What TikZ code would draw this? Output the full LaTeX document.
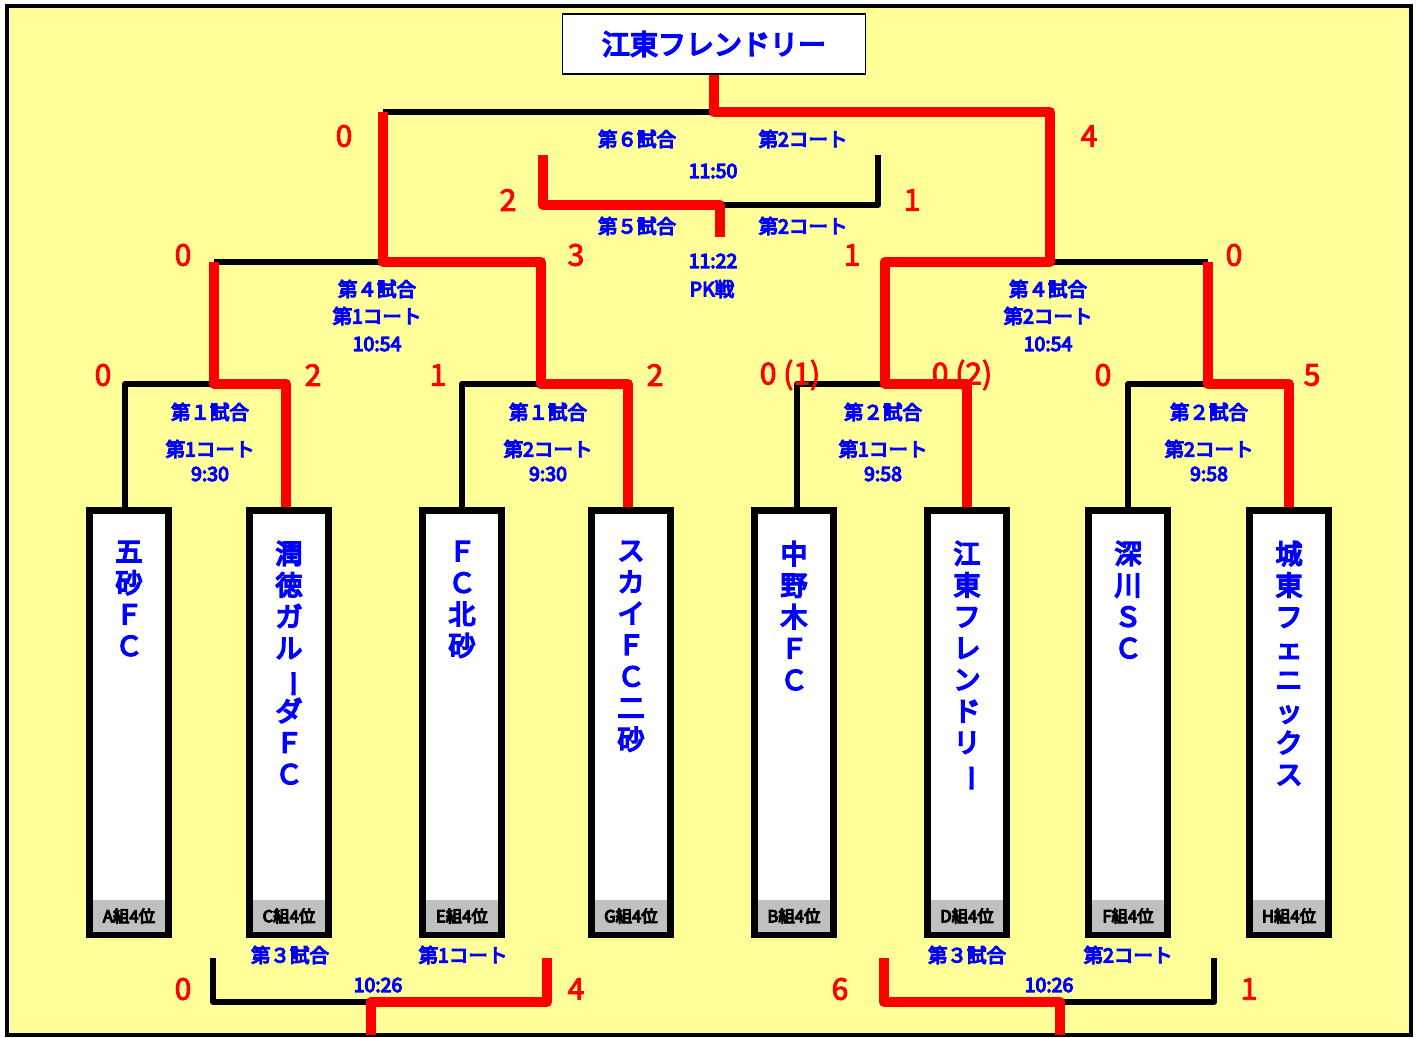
\documentclass[tikz,border=0pt]{standalone}
\usepackage{fontspec}
\setmainfont{Noto Sans CJK JP}
\newfontfamily\jpbold{Noto Sans CJK JP}[FakeBold=6]
\newfontfamily\jpmid{Noto Sans CJK JP}[FakeBold=3]
\definecolor{bgyellow}{HTML}{FFFF99}
\definecolor{grp}{HTML}{C0C0C0}
\tikzset{
  blk/.style={draw, line width=6, line join=round},
  win/.style={draw, red, line width=10, line join=round},
  team/.style={draw, fill=white, line width=7, minimum width=79, minimum height=424, inner sep=0},
  rank/.style={fill=grp, minimum width=72, minimum height=32, inner sep=0, font=\jpbold\fontsize{16.5}{16.5}\selectfont},
  tname/.style={anchor=north, text=blue, align=center, inner sep=0, font=\jpbold\fontsize{27}{31.5}\selectfont},
  lbl/.style={text=blue, font=\jpbold\fontsize{19.5}{19.5}\selectfont},
  score/.style={text=red, font=\jpmid\fontsize{30}{30}\selectfont}
}
\newcommand{\vbar}{\rotatebox[origin=c]{-90}{ー}}
\begin{document}
\begin{tikzpicture}[x=1pt, y=-1pt]
\useasboundingbox (0,0) rectangle (1418,1038);
\fill[white] (0,0) rectangle (1418,1038);
\draw[fill=bgyellow, line width=4] (7,6) rectangle (1411,1035);

% title
\node[draw, fill=white, line width=1.2, minimum width=303, minimum height=60,
  text=blue, font=\jpbold\fontsize{28}{28}\selectfont] (title) at (714,44) {江東フレンドリー};

% teams
\node[team] (t1) at (129,722) {};
\node[team] (t2) at (289,722) {};
\node[team] (t3) at (462,722) {};
\node[team] (t4) at (631,722) {};
\node[team] (t5) at (794,722) {};
\node[team] (t6) at (967,722) {};
\node[team] (t7) at (1128,722) {};
\node[team] (t8) at (1289,722) {};
\node[rank] (g1) at (129,916) {A組4位};
\node[rank] (g2) at (289,916) {C組4位};
\node[rank] (g3) at (462,916) {E組4位};
\node[rank] (g4) at (631,916) {G組4位};
\node[rank] (g5) at (794,916) {B組4位};
\node[rank] (g6) at (967,916) {D組4位};
\node[rank] (g7) at (1128,916) {F組4位};
\node[rank] (g8) at (1289,916) {H組4位};
\node[tname] (n1) at (129,541) {五\\砂\\Ｆ\\Ｃ};
\node[tname] (n2) at (289,541) {潤\\徳\\ガ\\ル\\\vbar\\ダ\\Ｆ\\Ｃ};
\node[tname] (n3) at (462,541) {Ｆ\\Ｃ\\北\\砂};
\node[tname] (n4) at (631,541) {ス\\カ\\イ\\Ｆ\\Ｃ\\二\\砂};
\node[tname] (n5) at (794,541) {中\\野\\木\\Ｆ\\Ｃ};
\node[tname] (n6) at (967,541) {江\\東\\フ\\レ\\ン\\ド\\リ\\\vbar};
\node[tname] (n7) at (1128,541) {深\\川\\Ｓ\\Ｃ};
\node[tname] (n8) at (1289,541) {城\\東\\フ\\ェ\\ニ\\ッ\\ク\\ス};

% junctions
\coordinate (a1) at (214,384);
\coordinate (a2) at (541,384);
\coordinate (a3) at (885,384);
\coordinate (a4) at (1208,384);
\coordinate (b1) at (383,262);
\coordinate (b2) at (1050,262);
\coordinate (f) at (714,112);
\coordinate (c1) at (543,155);
\coordinate (c2) at (878,155);
\coordinate (cm) at (720,205);
\coordinate (cd) at (720,237);
\coordinate (d1) at (213,958);
\coordinate (d2) at (547,958);
\coordinate (dm) at (371,1002);
\coordinate (dd) at (371,1035);
\coordinate (e1) at (884,958);
\coordinate (e2) at (1214,958);
\coordinate (em) at (1060,1002);
\coordinate (ed) at (1060,1035);

% losing lines
\path[blk] ([xshift=-4]t1.north) |- (a1);
\path[blk] (t3.north) |- (a2);
\path[blk] ([xshift=3]t5.north) |- (a3);
\path[blk] (t7.north) |- (a4);
\path[blk] (a1 |- b1) -- (b1);
\path[blk] (b2) -- (a4 |- b2);
\path[blk] (b1 |- f) -- (f);
\path[blk] (cm) -| (c2);
\path[blk] (d1) |- (dm);
\path[blk] (e2) |- (em);

% winning lines
\path[win] ([xshift=-3]t2.north) |- (a1) -- (a1 |- b1);
\path[win] ([xshift=-3]t4.north) |- (a2) -- (a2 |- b1) -- (b1) -- (b1 |- f);
\path[win] (t6.north) |- (a3) -- (a3 |- b2) -- (b2) -- (b2 |- f) -- (f) -- (title.south);
\path[win] (t8.north) |- (a4) -- (a4 |- b2);
\path[win] (c1) |- (cm) -- (cd);
\path[win] (d2) |- (dm) -- (dd);
\path[win] (e1) |- (em) -- (ed);

% match labels
\node[lbl] (m6a) at (637,139) {第６試合};
\node[lbl] (m6b) at (803,139) {第2コート};
\node[lbl] (m6c) at (713,171) {11:50};
\node[lbl] (m5a) at (637,226) {第５試合};
\node[lbl] (m5b) at (803,226) {第2コート};
\node[lbl] (m5c) at (713,261) {11:22};
\node[lbl] (m5d) at (712,289) {PK戦};
\node[lbl] (m4a) at (377,289) {第４試合};
\node[lbl] (m4b) at (377,316) {第1コート};
\node[lbl] (m4c) at (377,344) {10:54};
\node[lbl] (m4d) at (1048,289) {第４試合};
\node[lbl] (m4e) at (1048,316) {第2コート};
\node[lbl] (m4f) at (1048,344) {10:54};
\node[lbl] (m1a) at (210,412) {第１試合};
\node[lbl] (m1b) at (210,449) {第1コート};
\node[lbl] (m1c) at (210,474) {9:30};
\node[lbl] (m1d) at (548,412) {第１試合};
\node[lbl] (m1e) at (548,449) {第2コート};
\node[lbl] (m1f) at (548,474) {9:30};
\node[lbl] (m2a) at (883,412) {第２試合};
\node[lbl] (m2b) at (883,449) {第1コート};
\node[lbl] (m2c) at (883,474) {9:58};
\node[lbl] (m2d) at (1209,412) {第２試合};
\node[lbl] (m2e) at (1209,449) {第2コート};
\node[lbl] (m2f) at (1209,474) {9:58};
\node[lbl] (m3a) at (290,955) {第３試合};
\node[lbl] (m3b) at (463,955) {第1コート};
\node[lbl] (m3c) at (378,985) {10:26};
\node[lbl] (m3d) at (967,955) {第３試合};
\node[lbl] (m3e) at (1128,955) {第2コート};
\node[lbl] (m3f) at (1049,985) {10:26};

% scores
\node[score] (s1) at (344,136) {0};
\node[score] (s2) at (1089,136) {4};
\node[score] (s3) at (508,200) {2};
\node[score] (s4) at (912,200) {1};
\node[score] (s5) at (183,255) {0};
\node[score] (s6) at (576,255) {3};
\node[score] (s7) at (852,255) {1};
\node[score] (s8) at (1234,255) {0};
\node[score] (s9) at (103,375) {0};
\node[score] (s10) at (313,375) {2};
\node[score] (s11) at (438,375) {1};
\node[score] (s12) at (655,375) {2};
\node[score] (s13) at (790,375) {0 (1)};
\node[score] (s14) at (962,375) {0 (2)};
\node[score] (s15) at (1103,375) {0};
\node[score] (s16) at (1312,375) {5};
\node[score] (s17) at (183,989) {0};
\node[score] (s18) at (576,989) {4};
\node[score] (s19) at (840,989) {6};
\node[score] (s20) at (1249,989) {1};
\end{tikzpicture}
\end{document}
